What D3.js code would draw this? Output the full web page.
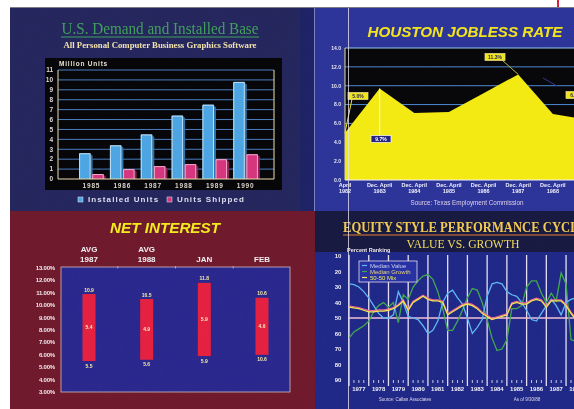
<!DOCTYPE html>
<html lang="en">
<head>
<meta charset="utf-8">
<title>Business graphics sampler</title>
<style>
html, body {margin: 0; padding: 0; overflow: hidden; background: #fff}
svg {display: block}
text {font-family: "Liberation Sans", Arial, sans-serif}
</style>
</head>
<body>
<svg width="574" height="409"></svg>
<script src="https://cdn.jsdelivr.net/npm/d3@7"></script>
<script>

// ---- data ----
var demandYears = ["1985", "1986", "1987", "1988", "1989", "1990"];
var installedUnits = [2.6, 3.4, 4.5, 6.4, 7.5, 9.8];
var unitsShipped = [0.5, 1.0, 1.3, 1.5, 2.0, 2.5];
var demandTicks = [0, 1, 2, 3, 4, 5, 6, 7, 8, 9, 10, 11];

var joblessTop = ["April", "Dec. April", "Dec. April", "Dec. April", "Dec. April", "Dec. April", "Dec. April"];
var joblessYears = ["1982", "1983", "1984", "1985", "1986", "1987", "1988"];
var joblessRate = [5.0, 9.7, 7.1, 7.2, 9.2, 11.2, 7.0, 6.4];
var joblessTicks = [0, 2, 4, 6, 8, 10, 12, 14];
var joblessNotes = ["5.0%", "9.7%", "11.3%", "6.8%"];

var interestTop = ["AVG", "AVG", "", ""];
var interestCols = ["1987", "1988", "JAN", "FEB"];
var interestHigh = [10.9, 10.5, 11.8, 10.6];
var interestLow = [5.5, 5.6, 5.9, 6.0];
var interestSpread = ["5.4", "4.9", "5.9", "4.6"];
var interestLowText = ["5.5", "5.6", "5.9", "10.6"];
var interestTicks = [3, 4, 5, 6, 7, 8, 9, 10, 11, 12, 13];

var equityYears = [1977, 1978, 1979, 1980, 1981, 1982, 1983, 1984, 1985, 1986, 1987, 1988];
var equityTicks = [10, 20, 30, 40, 50, 60, 70, 80, 90];
var equitySeries = ["Median Value", "Median Growth", "50-50 Mix"];
// quarterly percent ranking, starting 1977 Q1
var medianValue = [28, 28.5, 30, 33, 37, 42, 47, 50, 50, 48, 33, 40, 49, 50, 51, 55, 60, 58, 52, 40,
  34, 32, 37, 41, 50, 60, 56, 51, 36, 28, 27, 28, 33, 35, 36, 40, 45, 51, 52, 47, 42, 38, 42, 48, 40, 38, 37];
var medianGrowth = [63, 59, 57, 55, 52, 46, 42, 40, 43, 40, 53, 35, 38, 30, 26, 23, 22, 25, 33, 44,
  58, 58, 52, 45, 37, 31, 32, 40, 51, 63, 71, 70, 64, 44, 44, 42, 30, 26, 26, 34, 40, 34, 39, 21, 28, 64, 65];
var mixFiftyFifty = [43, 43.5, 44, 45, 46, 46, 45.5, 45.5, 45, 44, 42, 39, 45, 40, 38, 36, 38, 39, 39, 40,
  48, 46, 44, 42, 41, 42, 44, 47, 49, 51, 50, 49, 48, 41, 40, 41, 41, 39, 38, 39, 43, 39, 39, 39, 42, 47, 51];

// ---- page ----
var svg = d3.select("svg");
var defs = svg.append("defs");

var grain = defs.append("filter").attr("id", "grain")
  .attr("x", 0).attr("y", 0).attr("width", "100%").attr("height", "100%");
grain.append("feTurbulence").attr("type", "fractalNoise")
  .attr("baseFrequency", 0.9).attr("numOctaves", 2).attr("seed", 7);
grain.append("feColorMatrix").attr("type", "saturate").attr("values", 0);

svg.append("rect").attr("width", 574).attr("height", 409).attr("fill", "#fff");

// panel backgrounds
svg.append("rect").attr("x", 10).attr("y", 7).attr("width", 290).attr("height", 205).attr("fill", "#23255a");
svg.append("rect").attr("x", 300).attr("y", 7).attr("width", 274).attr("height", 205).attr("fill", "#2b3396");
svg.append("rect").attr("x", 300).attr("y", 7).attr("width", 14).attr("height", 205).attr("fill", "#1d2263");
svg.append("rect").attr("x", 10).attr("y", 211).attr("width", 305).attr("height", 198).attr("fill", "#6c192b");
svg.append("rect").attr("x", 315).attr("y", 211).attr("width", 259).attr("height", 198).attr("fill", "#1f2784");
svg.append("rect").attr("x", 315).attr("y", 211).attr("width", 259).attr("height", 41).attr("fill", "#17193f");
svg.append("line").attr("x1", 10).attr("x2", 574).attr("y1", 7.5).attr("y2", 7.5)
  .attr("stroke", "#7a7a88").attr("stroke-width", 1);
svg.append("line").attr("x1", 558).attr("x2", 558).attr("y1", 0).attr("y2", 7)
  .attr("stroke", "#d8203a").attr("stroke-width", 2);

// ================= U.S. Demand and Installed Base =================
var g1 = svg.append("g");
g1.append("text").attr("x", 160).attr("y", 34).attr("text-anchor", "middle")
  .attr("textLength", 197).attr("lengthAdjust", "spacingAndGlyphs")
  .style("font-family", "'Liberation Serif', 'DejaVu Serif', serif").style("font-size", "16px")
  .attr("fill", "#3f9d58").text("U.S. Demand and Installed Base");
g1.append("line").attr("x1", 61).attr("x2", 259).attr("y1", 37).attr("y2", 37)
  .attr("stroke", "#3f9d58").attr("stroke-width", 1);
g1.append("text").attr("x", 160).attr("y", 48).attr("text-anchor", "middle")
  .attr("textLength", 193).attr("lengthAdjust", "spacingAndGlyphs")
  .style("font-family", "'Liberation Serif', 'DejaVu Serif', serif").style("font-size", "9px")
  .style("font-weight", "bold").attr("fill", "#f0e0aa")
  .text("All Personal Computer Business Graphics Software");

g1.append("rect").attr("x", 45).attr("y", 58).attr("width", 237).attr("height", 132).attr("fill", "#060609");

var y1 = d3.scaleLinear().domain([0, 11]).range([179, 70]);
var x1 = d3.scaleBand().domain(demandYears).range([76, 261]).paddingInner(0.2).paddingOuter(0.1);
var x1s = d3.scaleBand().domain(["installed", "shipped"]).range([0, x1.bandwidth()]).paddingInner(0.12);

g1.selectAll(".grid").data(demandTicks.filter(function(d) { return d > 0; })).enter().append("line")
  .attr("x1", 58).attr("x2", 274).attr("y1", function(d) { return y1(d); }).attr("y2", function(d) { return y1(d); })
  .attr("stroke", "#4a7bbd").attr("stroke-width", 1);
g1.selectAll(".ytick").data(demandTicks).enter().append("text")
  .attr("x", 53).attr("y", function(d) { return y1(d) + 2.3; }).attr("text-anchor", "end")
  .style("font-size", "6.5px").style("font-weight", "bold").attr("fill", "#ddd6cf").text(function(d) { return d; });
g1.append("text").attr("x", 59).attr("y", 66).style("font-size", "6.5px").style("font-weight", "bold")
  .style("letter-spacing", "0.8px").attr("fill", "#e6dccb").text("Million Units");

function bar3d(g, x, y, w, h, fill, side, edge) {
  g.append("rect").attr("x", x).attr("y", y).attr("width", w).attr("height", h).attr("fill", fill);
  g.append("path").attr("d", "M" + (x + w) + "," + (y + 1) + "l2,1.5V" + (y + h) + "H" + (x + w) + "Z").attr("fill", side);
  g.append("path").attr("d", "M" + (x + 0.5) + "," + (y + h) + "V" + (y + 0.5) + "H" + (x + w - 0.5) + "V" + (y + h))
    .attr("fill", "none").attr("stroke", edge).attr("stroke-width", 0.9);
}

demandYears.forEach(function(yr, i) {
  var gx = x1(yr);
  bar3d(g1, gx + x1s("installed"), y1(installedUnits[i]), x1s.bandwidth(), y1(0) - y1(installedUnits[i]),
    "#4aa3e2", "#2c6fa8", "#cfe6f6");
  bar3d(g1, gx + x1s("shipped"), y1(unitsShipped[i]), x1s.bandwidth(), y1(0) - y1(unitsShipped[i]),
    "#d4347a", "#8e1f50", "#f2b8d2");
});

g1.append("line").attr("x1", 58).attr("x2", 58).attr("y1", 70).attr("y2", 179).attr("stroke", "#e6d6aa").attr("stroke-width", 1);
g1.append("line").attr("x1", 274).attr("x2", 274).attr("y1", 70).attr("y2", 179).attr("stroke", "#e6d6aa").attr("stroke-width", 1);
g1.append("line").attr("x1", 58).attr("x2", 274).attr("y1", 179).attr("y2", 179).attr("stroke", "#e6d6aa").attr("stroke-width", 1);

g1.selectAll(".xlab").data(demandYears).enter().append("text")
  .attr("x", function(d) { return x1(d) + x1.bandwidth() / 2; }).attr("y", 187.5).attr("text-anchor", "middle")
  .style("font-size", "6.5px").style("font-weight", "bold").style("letter-spacing", "0.8px")
  .attr("fill", "#d9d1c8").text(function(d) { return d; });

var legend1 = [{name: "Installed Units", color: "#4aa3e2", x: 78}, {name: "Units Shipped", color: "#d4347a", x: 167}];
legend1.forEach(function(d) {
  g1.append("rect").attr("x", d.x).attr("y", 197).attr("width", 5).attr("height", 5).attr("fill", d.color)
    .attr("stroke", "#e8e8f4").attr("stroke-width", 0.5);
  g1.append("text").attr("x", d.x + 10).attr("y", 202.3).style("font-size", "8px").style("font-weight", "bold")
    .style("letter-spacing", "1.1px").attr("fill", "#dcdcee").text(d.name);
});

// ================= Houston Jobless Rate =================
var g2 = svg.append("g");
g2.append("text").attr("x", 465).attr("y", 37).attr("text-anchor", "middle")
  .attr("textLength", 195).attr("lengthAdjust", "spacingAndGlyphs")
  .style("font-size", "15px").style("font-weight", "bold").style("font-style", "italic")
  .attr("fill", "#f2e41a").text("HOUSTON JOBLESS RATE");

var x2 = d3.scaleLinear().domain([0, 7]).range([345, 587.5]);
var y2 = d3.scaleLinear().domain([0, 14]).range([180, 48]);

g2.append("rect").attr("x", 345).attr("y", y2(14)).attr("width", 229).attr("height", y2(0) - y2(14)).attr("fill", "#070709");
g2.selectAll(".grid").data(joblessTicks.filter(function(d) { return d > 0; })).enter().append("line")
  .attr("x1", 345).attr("x2", 574).attr("y1", function(d) { return y2(d); }).attr("y2", function(d) { return y2(d); })
  .attr("stroke", function(d) { return d === 14 ? "#8fc2ec" : "#4b86cf"; }).attr("stroke-width", 1);

var area2 = d3.area().x(function(d, i) { return x2(i); }).y0(y2(0)).y1(function(d) { return y2(d); });
g2.append("path").datum(joblessRate).attr("d", area2).attr("fill", "#f3ea12");
g2.append("line").attr("x1", 345).attr("x2", 574).attr("y1", y2(0)).attr("y2", y2(0)).attr("stroke", "#f4f0f8").attr("stroke-width", 1);
g2.append("line").attr("x1", 345).attr("x2", 345).attr("y1", y2(14)).attr("y2", y2(0)).attr("stroke", "#e2da7a").attr("stroke-width", 1);

g2.selectAll(".ytick").data(joblessTicks).enter().append("text")
  .attr("x", 341).attr("y", function(d) { return y2(d) + 1.8; }).attr("text-anchor", "end")
  .style("font-size", "5px").style("font-weight", "bold").attr("fill", "#e6e4f4")
  .text(function(d) { return d.toFixed(1); });

g2.selectAll(".xtop").data(joblessTop).enter().append("text")
  .attr("x", function(d, i) { return x2(i); }).attr("y", 187).attr("text-anchor", "middle")
  .style("font-size", "5.5px").style("font-weight", "bold").attr("fill", "#ecebfa").text(function(d) { return d; });
g2.selectAll(".xyr").data(joblessYears).enter().append("text")
  .attr("x", function(d, i) { return x2(i); }).attr("y", 193).attr("text-anchor", "middle")
  .style("font-size", "5.5px").style("font-weight", "bold").attr("fill", "#ecebfa").text(function(d) { return d; });
g2.append("text").attr("x", 467).attr("y", 205).attr("text-anchor", "middle")
  .style("font-size", "6.3px").attr("fill", "#dccbe6").text("Source: Texas Employment Commission");

// callouts: which point, where the box sits, how it looks
var calloutLayout = [
  {point: 0, bx: 358, by: 96, lx: 352, ly: 99, fill: "#f2e41a", ink: "#20205a", lead: "#f2e41a"},
  {point: 1, bx: 381, by: 139, lx: x2(1), ly: 136, fill: "#23237e", ink: "#ffffff", lead: "#ffffff"},
  {point: 5, bx: 495, by: 57, lx: 502, ly: 60, fill: "#f2e41a", ink: "#20205a", lead: "#b6b440"},
  {point: 7, bx: 576, by: 95, lx: 557, ly: 86, fill: "#f2e41a", ink: "#20205a", lead: "#34348a"}
];
calloutLayout.forEach(function(c, i) {
  var px = c.point === 7 ? 543 : x2(c.point), py = c.point === 7 ? 78 : y2(joblessRate[c.point]);
  g2.append("line").attr("x1", c.lx).attr("y1", c.ly).attr("x2", px).attr("y2", py)
    .attr("stroke", c.lead).attr("stroke-width", 1);
  g2.append("rect").attr("x", c.bx - 10).attr("y", c.by - 3.5).attr("width", 20).attr("height", 7)
    .attr("fill", c.fill).attr("stroke", c.fill === "#23237e" ? "#ffffff" : "#ece090").attr("stroke-width", 0.7);
  g2.append("text").attr("x", c.bx).attr("y", c.by + 1.8).attr("text-anchor", "middle")
    .style("font-size", "5px").style("font-weight", "bold").attr("fill", c.ink).text(joblessNotes[i]);
});

// ================= Net Interest =================
var g3 = svg.append("g");
g3.append("text").attr("x", 165).attr("y", 233).attr("text-anchor", "middle")
  .attr("textLength", 110).attr("lengthAdjust", "spacingAndGlyphs")
  .style("font-size", "14px").style("font-weight", "bold").style("font-style", "italic")
  .attr("fill", "#f2ea1c").text("NET INTEREST");

var x3 = d3.scalePoint().domain(interestCols).range([89, 262]);
var y3 = d3.scaleLinear().domain([3, 13]).range([392, 268]);

g3.append("rect").attr("x", 61).attr("y", 267).attr("width", 229).attr("height", 125)
  .attr("fill", "#29268a").attr("stroke", "#cdb6b8").attr("stroke-width", 0.8);
g3.selectAll(".ytick").data(interestTicks).enter().append("text")
  .attr("x", 55).attr("y", function(d) { return y3(d) + 2; }).attr("text-anchor", "end")
  .style("font-size", "6px").style("font-weight", "bold").style("letter-spacing", "-0.2px")
  .attr("fill", "#f0e8ec").text(function(d) { return d.toFixed(2) + "%"; });
g3.selectAll(".toptick").data(interestCols.slice(0, 3)).enter().append("line")
  .attr("x1", function(d, i) { return (x3(interestCols[i]) + x3(interestCols[i + 1])) / 2; })
  .attr("x2", function(d, i) { return (x3(interestCols[i]) + x3(interestCols[i + 1])) / 2; })
  .attr("y1", 266).attr("y2", 268.5).attr("stroke", "#cdb6b8").attr("stroke-width", 0.8);

interestCols.forEach(function(col, i) {
  var cx = x3(col);
  if (interestTop[i]) {
    g3.append("text").attr("x", cx).attr("y", 252).attr("text-anchor", "middle")
      .style("font-size", "8px").style("font-weight", "bold").attr("fill", "#f2eef0").text(interestTop[i]);
  }
  g3.append("text").attr("x", cx).attr("y", 262).attr("text-anchor", "middle")
    .style("font-size", "8px").style("font-weight", "bold").attr("fill", "#f2eef0").text(col);
  g3.append("rect").attr("x", cx - 6.5).attr("y", y3(interestHigh[i])).attr("width", 13)
    .attr("height", y3(interestLow[i]) - y3(interestHigh[i])).attr("fill", "#e4203e");
  g3.append("text").attr("x", cx).attr("y", y3(interestHigh[i]) - 2.5).attr("text-anchor", "middle")
    .style("font-size", "5px").style("font-weight", "bold").attr("fill", "#f2e9a0").text(interestHigh[i].toFixed(1));
  g3.append("text").attr("x", cx).attr("y", (y3(interestHigh[i]) + y3(interestLow[i])) / 2 + 1.8).attr("text-anchor", "middle")
    .style("font-size", "5px").style("font-weight", "bold").attr("fill", "#f6e6b8").text(interestSpread[i]);
  g3.append("text").attr("x", cx).attr("y", y3(interestLow[i]) + 6.5).attr("text-anchor", "middle")
    .style("font-size", "5px").style("font-weight", "bold").attr("fill", "#f2e9a0").text(interestLowText[i]);
});

// ================= Equity Style Performance Cycle =================
var g4 = svg.append("g");
g4.append("text").attr("x", 343).attr("y", 232)
  .attr("textLength", 244).attr("lengthAdjust", "spacingAndGlyphs")
  .style("font-family", "'Liberation Serif', 'DejaVu Serif', serif").style("font-size", "14px")
  .style("font-weight", "bold").attr("fill", "#f2c84e").text("EQUITY STYLE PERFORMANCE CYCLE");
g4.append("line").attr("x1", 343).attr("x2", 574).attr("y1", 235).attr("y2", 235)
  .attr("stroke", "#e07a2c").attr("stroke-width", 1.2);
g4.append("text").attr("x", 463).attr("y", 248).attr("text-anchor", "middle")
  .attr("textLength", 113).attr("lengthAdjust", "spacingAndGlyphs")
  .style("font-family", "'Liberation Serif', 'DejaVu Serif', serif").style("font-size", "11.5px")
  .attr("fill", "#f0dc5a").text("VALUE VS. GROWTH");
g4.append("text").attr("x", 347).attr("y", 252).style("font-size", "5.5px").style("font-weight", "bold")
  .attr("fill", "#eae6f6").text("Percent Ranking");

var x4 = d3.scaleLinear().domain([1977, 1989]).range([349, 585.8]);
var y4 = d3.scaleLinear().domain([10, 90]).range([256, 380]);

g4.selectAll(".ytick").data(equityTicks).enter().append("text")
  .attr("x", 338).attr("y", function(d) { return y4(d) + 2; }).attr("text-anchor", "middle")
  .style("font-size", "6px").style("font-weight", "bold").attr("fill", "#ecebf6").text(function(d) { return d; });

g4.selectAll(".vline").data(equityYears).enter().append("line")
  .attr("x1", function(d) { return x4(d); }).attr("x2", function(d) { return x4(d); })
  .attr("y1", 255).attr("y2", 386).attr("stroke", "#e4dcf0").attr("stroke-width", 1.3);

var quarterTicks = [];
equityYears.forEach(function(yr) { [0.25, 0.5, 0.75].forEach(function(q) { quarterTicks.push(yr + q); }); });
g4.selectAll(".qtick").data(quarterTicks).enter().append("line")
  .attr("x1", function(d) { return x4(d); }).attr("x2", function(d) { return x4(d); })
  .attr("y1", 380).attr("y2", 383).attr("stroke", "#ecebf6").attr("stroke-width", 0.8);
g4.selectAll(".xlab").data(equityYears).enter().append("text")
  .attr("x", function(d) { return x4(d + 0.5); }).attr("y", 391).attr("text-anchor", "middle")
  .style("font-size", "6px").style("font-weight", "bold").attr("fill", "#ecebf6").text(function(d) { return d; });
g4.append("text").attr("x", 405).attr("y", 401).attr("text-anchor", "middle")
  .style("font-size", "4.5px").attr("fill", "#dcd6ee").text("Source: Callan Associates");
g4.append("text").attr("x", 527).attr("y", 401).attr("text-anchor", "middle")
  .style("font-size", "4.5px").attr("fill", "#dcd6ee").text("As of 9/30/88");

g4.append("line").attr("x1", 349).attr("x2", 574).attr("y1", y4(50)).attr("y2", y4(50))
  .attr("stroke", "#f2bcd6").attr("stroke-width", 1.6);

var line4 = d3.line().x(function(d, i) { return x4(1977 + i / 4); }).y(function(d) { return y4(d); });
g4.append("path").datum(medianGrowth).attr("d", line4).attr("fill", "none").attr("stroke", "#3fa54a").attr("stroke-width", 1.3);
g4.append("path").datum(medianValue).attr("d", line4).attr("fill", "none").attr("stroke", "#5cb4f2").attr("stroke-width", 1.3);
g4.append("path").datum(mixFiftyFifty).attr("d", line4).attr("fill", "none").attr("stroke", "#f0609a")
  .attr("stroke-width", 1.2).attr("transform", "translate(0,-1.2)");
g4.append("path").datum(mixFiftyFifty).attr("d", line4).attr("fill", "none").attr("stroke", "#f2e84a").attr("stroke-width", 1.3);

var legendColors = ["#c6ccf4", "#e8d070", "#f2e84a"];
var swatchColors = ["#5cb4f2", "#3fa54a", "#f2e84a"];
g4.append("rect").attr("x", 359).attr("y", 261).attr("width", 58).attr("height", 21)
  .attr("fill", "#2630a0").attr("stroke", "#dcd6f0").attr("stroke-width", 0.8);
equitySeries.forEach(function(name, i) {
  g4.append("line").attr("x1", 362).attr("x2", 367).attr("y1", 265.5 + i * 6).attr("y2", 265.5 + i * 6)
    .attr("stroke", swatchColors[i]).attr("stroke-width", 1.2);
  g4.append("text").attr("x", 370).attr("y", 267.5 + i * 6).style("font-size", "6px")
    .attr("fill", legendColors[i]).text(name);
});

// shared vertical edge on the right-hand sheets
svg.append("line").attr("x1", 348.5).attr("x2", 348.5).attr("y1", 8).attr("y2", 409)
  .attr("stroke", "#e6e2f2").attr("stroke-width", 0.9).attr("opacity", 0.85);
svg.append("line").attr("x1", 314.5).attr("x2", 314.5).attr("y1", 8).attr("y2", 211)
  .attr("stroke", "#8c92c8").attr("stroke-width", 0.8);

// print grain over the photographed sheets
svg.append("rect").attr("x", 10).attr("y", 8).attr("width", 564).attr("height", 401)
  .attr("filter", "url(#grain)").attr("opacity", 0.13).style("mix-blend-mode", "overlay");

</script>
</body>
</html>
